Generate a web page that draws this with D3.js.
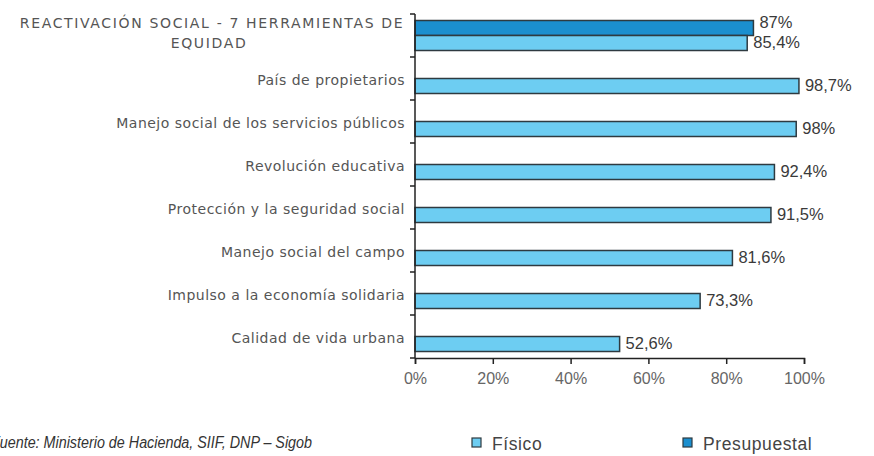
<!DOCTYPE html>
<html><head><meta charset="utf-8">
<script src="https://cdn.jsdelivr.net/npm/d3@7"></script>
<style>body{margin:0;background:#fff}svg{display:block}</style>
</head><body><svg id="c" width="874" height="456"></svg>
<script>
const categories = [
  ["REACTIVACIÓN SOCIAL - 7 HERRAMIENTAS DE", "EQUIDAD"],
  ["País de propietarios"],
  ["Manejo social de los servicios públicos"],
  ["Revolución educativa"],
  ["Protección y la seguridad social"],
  ["Manejo social del campo"],
  ["Impulso a la economía solidaria"],
  ["Calidad de vida urbana"]
];
const seriesNames = ["Presupuestal", "Físico"];
const fisico = [85.4, 98.7, 98, 92.4, 91.5, 81.6, 73.3, 52.6];
const presupuestal = [87, null, null, null, null, null, null, null];
const xTicks = [0, 20, 40, 60, 80, 100];
const sourceText = "Fuente: Ministerio de Hacienda, SIIF, DNP – Sigob";
const legendNames = ["Físico", "Presupuestal"];

const colors = {"Físico": "#6dcdf2", "Presupuestal": "#1b8fcf"};
const svg = d3.select("#c");
const keys = categories.map(d => d.join(" "));
const x = d3.scaleLinear().domain([0, 100]).range([415, 804]);
const y = d3.scaleBand().domain(keys).range([14, 358]);
const y1 = d3.scaleBand().domain(seriesNames).range([0, y.bandwidth()]).paddingOuter(0.433);

const fmt = v => String(v).replace(".", ",") + "%";

const rows = [];
keys.forEach((k, i) => {
  if (presupuestal[i] != null) rows.push({k, s: "Presupuestal", v: presupuestal[i]});
  if (fisico[i] != null) rows.push({k, s: "Físico", v: fisico[i]});
});

svg.append("g").selectAll("rect").data(rows).join("rect")
  .attr("x", x(0)).attr("y", d => y(d.k) + y1(d.s))
  .attr("width", d => x(d.v) - x(0)).attr("height", y1.bandwidth())
  .attr("fill", d => colors[d.s]).attr("stroke", "#2e3a40").attr("stroke-width", 1.5);

svg.append("g").selectAll("text").data(rows).join("text")
  .attr("x", d => x(d.v) + 6)
  .attr("y", d => y(d.k) + y1(d.s) + y1.bandwidth() / 2 + (d.s === "Presupuestal" ? -6 : -1))
  .attr("dy", "0.35em")
  .attr("font-family", "Liberation Sans, Arial, sans-serif").attr("font-size", 16.5)
  .attr("fill", "#3a3a3a").text(d => fmt(d.v));

// y axis
const yAxis = svg.append("g").attr("transform", `translate(${x(0)},0)`);
yAxis.append("line").attr("x1", 0).attr("x2", 0).attr("y1", y.range()[0]).attr("y2", y.range()[1])
  .attr("stroke", "#222").attr("stroke-width", 1.5);
const bounds = keys.map(k => y(k)).concat([y.range()[1]]);
yAxis.selectAll(".t").data(bounds).join("line")
  .attr("x1", -5).attr("x2", 0).attr("y1", d => d).attr("y2", d => d)
  .attr("stroke", "#222").attr("stroke-width", 1.5);

// category labels
const lab = svg.append("g").attr("font-family", "DejaVu Sans, sans-serif").attr("fill", "#555");
categories.forEach((c, i) => {
  const k = keys[i];
  if (c.length === 1) {
    lab.append("text").attr("x", 405).attr("y", y(k) + y.bandwidth() / 2 + 2)
      .attr("dy", "0.35em").attr("text-anchor", "end").attr("font-size", 14)
      .attr("letter-spacing", 0.5).text(c[0]);
  } else {
    lab.append("text").attr("x", 212).attr("y", y(k) + 9.5).attr("dy", "0.35em")
      .attr("text-anchor", "middle").attr("font-size", 14).attr("letter-spacing", 1.65).text(c[0]);
    lab.append("text").attr("x", 209).attr("y", y(k) + 29.5).attr("dy", "0.35em")
      .attr("text-anchor", "middle").attr("font-size", 14).attr("letter-spacing", 1.65).text(c[1]);
  }
});

// x axis
const xAxis = d3.axisBottom(x).tickValues(xTicks).tickSize(6).tickPadding(9).tickFormat(d => d + "%");
const gx = svg.append("g").attr("transform", `translate(0,${y.range()[1]})`).call(xAxis);
gx.select(".domain").attr("stroke", "#222").attr("stroke-width", 1.5);
gx.selectAll(".tick line").attr("stroke", "#222").attr("stroke-width", 1.5);
gx.selectAll(".tick text").attr("font-family", "Liberation Sans, Arial, sans-serif")
  .attr("font-size", 16).attr("fill", "#666");

// legend
const legX = [472, 683];
const lg = svg.append("g");
legendNames.forEach((n, i) => {
  lg.append("rect").attr("x", legX[i]).attr("y", 438).attr("width", 9).attr("height", 9)
    .attr("fill", colors[n]).attr("stroke", "#2e3a40").attr("stroke-width", 1.2);
  lg.append("text").attr("x", legX[i] + 20).attr("y", 443.5).attr("dy", "0.35em")
    .attr("font-family", "Liberation Sans, Arial, sans-serif").attr("font-size", 17.5)
    .attr("letter-spacing", 0.6).attr("fill", "#444").text(n);
});

// source
svg.append("text").attr("x", -9).attr("y", 442).attr("dy", "0.35em")
  .attr("font-family", "Liberation Sans, Arial, sans-serif").attr("font-style", "italic")
  .attr("font-size", 16).attr("fill", "#333")
  .attr("textLength", 321).attr("lengthAdjust", "spacingAndGlyphs").text(sourceText);
</script></body></html>
